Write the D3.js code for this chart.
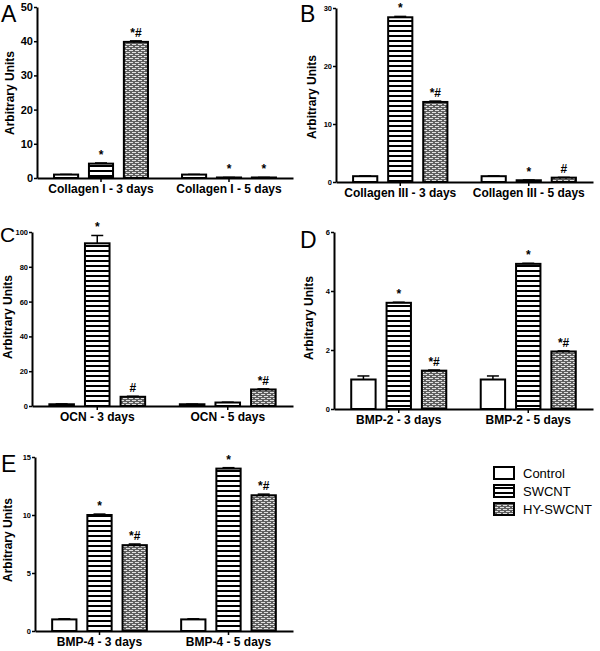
<!DOCTYPE html>
<html><head><meta charset="utf-8">
<script src="https://cdn.jsdelivr.net/npm/d3@7"></script>
<style>
body{margin:0;background:#fff;}
svg{display:block;font-family:"Liberation Sans",Arial,sans-serif;}
</style></head>
<body>
<svg id="chart" width="600" height="651"></svg>
<script>
// ---------- data ----------
const series = ["Control", "SWCNT", "HY-SWCNT"];

const groupsA = ["Collagen I - 3 days", "Collagen I - 5 days"];
const valuesA = [[1, 4.2, 39.8], [1, 0.15, 0.15]];
const errorsA = [[0.05, 0.2, 0.3], [0.05, 0.02, 0.02]];
const marksA = [["", "*", "*#"], ["", "*", "*"]];
const ticksA = [0, 10, 20, 30, 40, 50];

const groupsB = ["Collagen III - 3 days", "Collagen III - 5 days"];
const valuesB = [[1, 28.4, 13.8], [1, 0.3, 0.75]];
const errorsB = [[0.05, 0.15, 0.15], [0.05, 0.05, 0.05]];
const marksB = [["", "*", "*#"], ["", "*", "#"]];
const ticksB = [0, 10, 20, 30];

const groupsC = ["OCN - 3 days", "OCN - 5 days"];
const valuesC = [[1, 93.5, 5.3], [1, 2, 9.5]];
const errorsC = [[0.2, 4.5, 0.3], [0.1, 0.2, 0.3]];
const marksC = [["", "*", "#"], ["", "", "*#"]];
const ticksC = [0, 20, 40, 60, 80, 100];

const groupsD = ["BMP-2 - 3 days", "BMP-2 - 5 days"];
const valuesD = [[1, 3.6, 1.3], [1, 4.92, 1.95]];
const errorsD = [[0.12, 0.02, 0.02], [0.12, 0.02, 0.02]];
const marksD = [["", "*", "*#"], ["", "*", "*#"]];
const ticksD = [0, 2, 4, 6];

const groupsE = ["BMP-4 - 3 days", "BMP-4 - 5 days"];
const valuesE = [[1, 10, 7.4], [1, 14, 11.7]];
const errorsE = [[0.05, 0.08, 0.1], [0.05, 0.08, 0.1]];
const marksE = [["", "*", "*#"], ["", "*", "*#"]];
const ticksE = [0, 5, 10, 15];

// ---------- drawing ----------
const svg = d3.select("#chart");
const defs = svg.append("defs");

// SWCNT pattern: horizontal stripes
const pS = defs.append("pattern").attr("id", "pSW").attr("patternUnits", "userSpaceOnUse")
  .attr("width", 6).attr("height", 5);
pS.append("rect").attr("width", 6).attr("height", 5).attr("fill", "#fff");
pS.append("rect").attr("y", 0).attr("width", 6).attr("height", 2).attr("fill", "#000");

// HY-SWCNT pattern: gray brick
const pH = defs.append("pattern").attr("id", "pHY").attr("patternUnits", "userSpaceOnUse")
  .attr("width", 6).attr("height", 4);
pH.append("rect").attr("width", 6).attr("height", 4).attr("fill", "#5f5f5f");
pH.append("rect").attr("x", 0).attr("y", 0).attr("width", 4).attr("height", 1).attr("fill", "#e0e0e0");
pH.append("rect").attr("x", 3).attr("y", 2).attr("width", 4).attr("height", 1).attr("fill", "#e0e0e0");
pH.append("rect").attr("x", -3).attr("y", 2).attr("width", 4).attr("height", 1).attr("fill", "#e0e0e0");

const fills = { "Control": "#fff", "SWCNT": "url(#pSW)", "HY-SWCNT": "url(#pHY)" };

function panel(cfg) {
  const { letter, groups, values, errors, marks, ticks, x0, x1, yTop, yBot, tickFont, label } = cfg;
  const g = svg.append("g");
  const y = d3.scaleLinear().domain([0, d3.max(ticks)]).range([yBot, yTop]);
  const xg = d3.scaleBand().domain(groups).range([x0, x1]).paddingInner(0.266).paddingOuter(0.133);
  const xs = d3.scaleBand().domain(series).range([0, xg.bandwidth()]).paddingInner(0.31).paddingOuter(0);

  // bars
  groups.forEach((grp, gi) => {
    series.forEach((s, si) => {
      const v = values[gi][si], e = errors[gi][si];
      const bx = xg(grp) + xs(s), bw = xs.bandwidth();
      const cx = bx + bw / 2;
      if (e > 0) {
        g.append("line").attr("x1", cx).attr("x2", cx).attr("y1", y(v)).attr("y2", y(v + e))
          .attr("stroke", "#000").attr("stroke-width", 1.5);
        g.append("line").attr("x1", cx - 6).attr("x2", cx + 6).attr("y1", y(v + e)).attr("y2", y(v + e))
          .attr("stroke", "#000").attr("stroke-width", 1.5);
      }
      g.append("rect").attr("x", bx).attr("y", y(v)).attr("width", bw).attr("height", Math.max(0, y(0) - y(v)))
        .attr("fill", fills[s]).attr("stroke", "#000").attr("stroke-width", 2);
      const m = marks[gi][si];
      if (m) {
        g.append("text").attr("x", cx).attr("y", y(v + e) - 4).attr("text-anchor", "middle")
          .attr("font-size", 12).attr("font-weight", "bold").attr("fill", "#000").text(m);
      }
    });
  });

  // y axis
  const ya = g.append("g").attr("transform", `translate(${x0},0)`)
    .call(d3.axisLeft(y).tickValues(ticks).tickFormat(d3.format("d")).tickSize(3).tickSizeOuter(0).tickPadding(1));
  ya.select(".domain").attr("stroke-width", 2).attr("stroke", "#000");
  ya.selectAll(".tick line").attr("stroke-width", 1.5).attr("stroke", "#000");
  ya.selectAll(".tick text").attr("font-size", tickFont).attr("font-weight", "bold").attr("fill", "#000")
    .attr("font-family", "Liberation Sans, Arial, sans-serif");

  // x axis
  const xa = g.append("g").attr("transform", `translate(0,${yBot})`)
    .call(d3.axisBottom(xg).tickSize(4).tickSizeOuter(0).tickPadding(2));
  xa.select(".domain").attr("stroke-width", 2).attr("stroke", "#000");
  xa.selectAll(".tick line").attr("stroke-width", 1.5).attr("stroke", "#000");
  xa.selectAll(".tick text").attr("font-size", 12).attr("font-weight", "bold").attr("fill", "#000")
    .attr("font-family", "Liberation Sans, Arial, sans-serif");

  // y label
  g.append("text").attr("transform", `translate(${label[0]},${label[1]}) rotate(-90)`)
    .attr("text-anchor", "middle").attr("font-size", 12).attr("font-weight", "bold").attr("fill", "#000")
    .text("Arbitrary Units");

  // letter
  g.append("text").attr("x", cfg.lx).attr("y", cfg.ly).attr("font-size", cfg.lf).attr("fill", "#000").text(letter);
}

panel({ letter: "A", groups: groupsA, values: valuesA, errors: errorsA, marks: marksA, ticks: ticksA,
  x0: 37, x1: 293, yTop: 7, yBot: 178, tickFont: 11, label: [14, 93], lx: 1, ly: 22, lf: 23 });
panel({ letter: "B", groups: groupsB, values: valuesB, errors: errorsB, marks: marksB, ticks: ticksB,
  x0: 336, x1: 593, yTop: 8, yBot: 182, tickFont: 7.5, label: [316, 97], lx: 300, ly: 22, lf: 23 });
panel({ letter: "C", groups: groupsC, values: valuesC, errors: errorsC, marks: marksC, ticks: ticksC,
  x0: 32, x1: 293, yTop: 232, yBot: 406, tickFont: 7.5, label: [12, 317], lx: 0, ly: 242, lf: 21 });
panel({ letter: "D", groups: groupsD, values: valuesD, errors: errorsD, marks: marksD, ticks: ticksD,
  x0: 334, x1: 593, yTop: 232, yBot: 409, tickFont: 7.5, label: [313, 318], lx: 300, ly: 248, lf: 23 });
panel({ letter: "E", groups: groupsE, values: valuesE, errors: errorsE, marks: marksE, ticks: ticksE,
  x0: 35, x1: 293, yTop: 457, yBot: 631, tickFont: 7.5, label: [12, 540], lx: 1, ly: 472, lf: 23 });

// legend
const leg = svg.append("g").attr("transform", "translate(494,467)");
series.forEach((s, i) => {
  leg.append("rect").attr("x", 0).attr("y", i * 18).attr("width", 20).attr("height", 12)
    .attr("fill", fills[s]).attr("stroke", "#000").attr("stroke-width", 2);
  leg.append("text").attr("x", 29).attr("y", i * 18 + 11).attr("font-size", 13).attr("fill", "#000").text(s);
});
</script>
</body></html>
